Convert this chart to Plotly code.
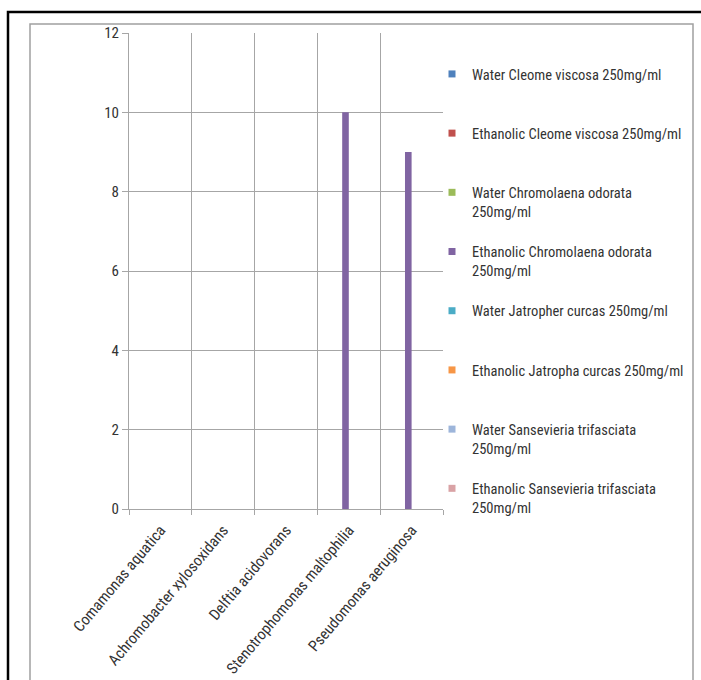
import plotly.graph_objects as go

categories = ["Comamonas aquatica", "Achromobacter xylosoxidans", "Delftia acidovorans",
              "Stenotrophomonas maltophilia", "Pseudomonas aeruginosa"]

series_names = [
    "Water Cleome viscosa 250mg/ml",
    "Ethanolic Cleome viscosa 250mg/ml",
    "Water Chromolaena odorata<br>250mg/ml",
    "Ethanolic Chromolaena odorata<br>250mg/ml",
    "Water Jatropher curcas 250mg/ml",
    "Ethanolic Jatropha curcas 250mg/ml",
    "Water Sansevieria trifasciata<br>250mg/ml",
    "Ethanolic Sansevieria trifasciata<br>250mg/ml",
]

water_cleome = [0, 0, 0, 0, 0]
ethanolic_cleome = [0, 0, 0, 0, 0]
water_chromolaena = [0, 0, 0, 0, 0]
ethanolic_chromolaena = [0, 0, 0, 10, 9]
water_jatropha = [0, 0, 0, 0, 0]
ethanolic_jatropha = [0, 0, 0, 0, 0]
water_sansevieria = [0, 0, 0, 0, 0]
ethanolic_sansevieria = [0, 0, 0, 0, 0]

series_values = [water_cleome, ethanolic_cleome, water_chromolaena, ethanolic_chromolaena,
                 water_jatropha, ethanolic_jatropha, water_sansevieria, ethanolic_sansevieria]

colors = ["#4F81BD", "#C0504D", "#9BBB59", "#8064A2", "#4BACC6", "#F79646", "#9DB5DA", "#D9A2A5"]

y_ticks = [0, 2, 4, 6, 8, 10, 12]

FONT = "Liberation Sans Narrow, Arial Narrow, Roboto Condensed, sans-serif"
TXT = "#333333"
GRID = "#A6A6A6"

W, H = 701, 680
L, R, T, B = 129, 443, 33, 509  # plot area in pixels

fig = go.Figure()
for i, (name, vals, col) in enumerate(zip(series_names, series_values, colors)):
    fig.add_trace(go.Bar(x=categories, y=vals, name=name, marker_color=col,
                         marker_line_width=0, showlegend=False))
for i, (name, col) in enumerate(zip(series_names, colors)):
    label = name if "<br>" in name else name + "<br> "
    fig.add_trace(go.Scatter(x=[None], y=[None], mode="markers", name=label,
                             legendgroup=f"g{i}",
                             marker=dict(symbol="square", size=7, color=col)))


def px_x(p):
    return (p - L) / (R - L)


def px_y(p):
    return 1 - (p - T) / (B - T)


shapes = [
    dict(type="rect", xref="paper", yref="paper", x0=px_x(8), x1=px_x(720), y0=px_y(700), y1=px_y(12),
         line=dict(color="black", width=2.5), layer="below"),
    dict(type="rect", xref="paper", yref="paper", x0=px_x(30), x1=px_x(693), y0=px_y(700), y1=px_y(24),
         line=dict(color="#A0A0A0", width=1.5), layer="below"),
]

fig.update_layout(
    width=W, height=H,
    margin=dict(l=L, r=W - R, t=T, b=H - B, pad=0, autoexpand=False),
    paper_bgcolor="white", plot_bgcolor="white",
    barmode="group", bargap=0.158, bargroupgap=0,
    font=dict(family=FONT, size=14, color=TXT),
    shapes=shapes,
    legend=dict(x=px_x(432), y=px_y(58), xanchor="left", yanchor="top",
                traceorder="grouped", tracegroupgap=18.5, valign="top",
                itemwidth=30, font=dict(family=FONT, size=14.5, color=TXT),
                bgcolor="rgba(0,0,0,0)"),
    showlegend=True,
)
fig.update_xaxes(type="category", categoryorder="array", categoryarray=categories,
                 tickson="boundaries", showgrid=True, gridcolor=GRID, gridwidth=1,
                 ticks="outside", ticklen=5, tickcolor=GRID, tickangle=-50,
                 ticklabelstandoff=5,
                 showline=True, linecolor=GRID, linewidth=1,
                 tickfont=dict(family=FONT, size=15.5, color=TXT), range=[-0.5, 4.5])
fig.update_yaxes(range=[0, 12], tickvals=y_ticks, showgrid=True, gridcolor=GRID, gridwidth=1,
                 ticks="outside", ticklen=6, tickcolor=GRID, zeroline=False,
                 showline=True, linecolor=GRID, linewidth=1,
                 tickfont=dict(family=FONT, size=15, color=TXT))

fig.write_html("out.html")
